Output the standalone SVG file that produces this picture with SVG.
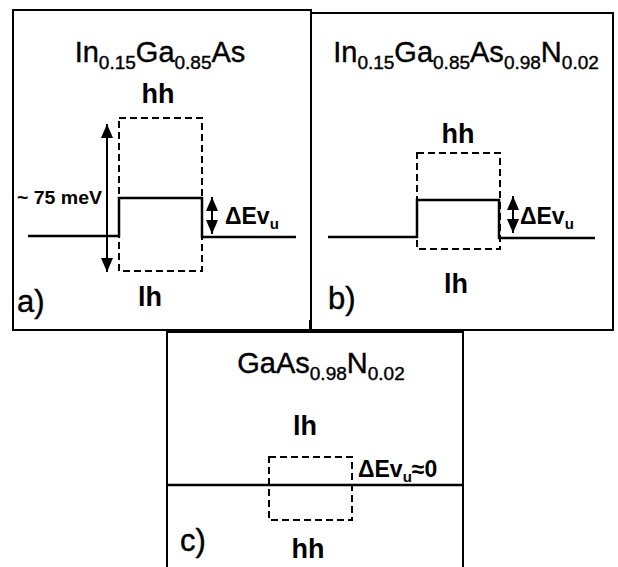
<svg xmlns="http://www.w3.org/2000/svg" width="618" height="567" viewBox="0 0 618 567">
<style>
  .frame{fill:none;stroke:#000;stroke-width:2}
  .band{fill:none;stroke:#000;stroke-width:2.5}
  .dash{fill:none;stroke:#000;stroke-width:2;stroke-dasharray:7 4}
  .arr{fill:none;stroke:#000;stroke-width:2}
  .title{font-family:"Liberation Sans",Arial,sans-serif;font-size:29px;fill:#000;stroke:#000;stroke-width:0.4}
  .lbl{font-family:"Liberation Sans",Arial,sans-serif;font-size:27px;font-weight:bold;fill:#000}
  .tag{font-family:"Liberation Sans",Arial,sans-serif;font-size:31px;fill:#000;stroke:#000;stroke-width:0.4}
  .de{font-family:"Liberation Sans",Arial,sans-serif;font-size:23px;font-weight:bold;fill:#000}
  .sm{font-family:"Liberation Sans",Arial,sans-serif;font-size:19px;font-weight:bold;fill:#000}
</style>
<defs>
  <marker id="ah" viewBox="0 0 14 12" refX="14" refY="6" markerWidth="14" markerHeight="12" orient="auto-start-reverse" markerUnits="userSpaceOnUse">
    <path d="M0,0 L14,6 L0,12 Z" fill="#000"/>
  </marker>
</defs>
<rect width="618" height="567" fill="#fff"/>

<g id="panel-a">
  <path class="frame" d="M13,330 V10 H311 V330 Z"/>
  <text class="title" x="160" y="62" text-anchor="middle">In<tspan font-size="19" dy="7">0.15</tspan><tspan dy="-7">Ga</tspan><tspan font-size="19" dy="7">0.85</tspan><tspan dy="-7">As</tspan></text>
  <text class="lbl" x="158" y="103" text-anchor="middle">hh</text>
  <rect class="dash" x="119" y="118" width="83" height="153"/>
  <path class="band" d="M28,236 H119 V198 H202 V237 H296"/>
  <text class="sm" x="17" y="204" textLength="85" lengthAdjust="spacingAndGlyphs">~ 75 meV</text>
  <text class="de" x="225" y="224">ΔEv<tspan font-size="15" dy="5">u</tspan></text>
  <text class="lbl" x="150" y="306" text-anchor="middle">lh</text>
  <text class="tag" x="17" y="312">a)</text>
</g>

<g id="panel-b">
  <path class="frame" d="M311,13 H613 V330 H311"/>
  <text class="title" x="466" y="62" text-anchor="middle">In<tspan font-size="19" dy="7">0.15</tspan><tspan dy="-7">Ga</tspan><tspan font-size="19" dy="7">0.85</tspan><tspan dy="-7">As</tspan><tspan font-size="19" dy="7">0.98</tspan><tspan dy="-7">N</tspan><tspan font-size="19" dy="7">0.02</tspan></text>
  <text class="lbl" x="458" y="143" text-anchor="middle">hh</text>
  <rect class="dash" x="417" y="153" width="83" height="96"/>
  <path class="band" d="M328,237 H417 V200 H499 V238 H595"/>
  <text class="de" x="520" y="224">ΔEv<tspan font-size="15" dy="5">u</tspan></text>
  <text class="lbl" x="456" y="293" text-anchor="middle">lh</text>
  <text class="tag" x="328" y="309">b)</text>
</g>

<g id="panel-c">
  <path class="frame" d="M167,567 V332 H463 V567"/>
  <text class="title" x="321" y="373" text-anchor="middle">GaAs<tspan font-size="19" dy="7">0.98</tspan><tspan dy="-7">N</tspan><tspan font-size="19" dy="7">0.02</tspan></text>
  <text class="lbl" x="305" y="435" text-anchor="middle">lh</text>
  <rect class="dash" x="269" y="457" width="83" height="63"/>
  <path class="band" d="M167,485 H463"/>
  <text class="de" x="358" y="477">ΔEv<tspan font-size="15" dy="5">u</tspan><tspan dy="-5">≈0</tspan></text>
  <text class="tag" x="180" y="551">c)</text>
  <text class="lbl" x="308" y="558" text-anchor="middle">hh</text>
</g>

<g id="connectors">
  <line class="arr" x1="107" y1="124" x2="107" y2="272" marker-start="url(#ah)" marker-end="url(#ah)"/>
  <line class="arr" x1="212" y1="197" x2="212" y2="234" marker-start="url(#ah)" marker-end="url(#ah)"/>
  <line class="arr" x1="513" y1="196" x2="513" y2="233" marker-start="url(#ah)" marker-end="url(#ah)"/>
  <line class="frame" x1="310" y1="320" x2="310" y2="332"/>
</g>
</svg>
